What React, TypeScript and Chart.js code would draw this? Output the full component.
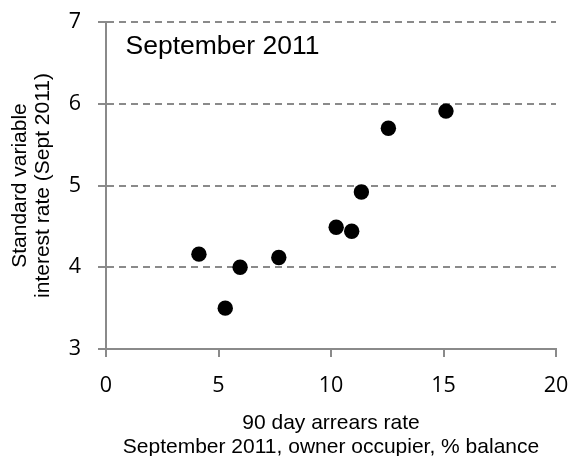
import React, { useEffect, useRef } from "react";
import { Chart, registerables } from "chart.js";

Chart.register(...registerables);

const arrearsRate: number[] = [4.13, 5.3, 5.96, 7.68, 10.23, 10.92, 11.35, 12.55, 15.11];
const interestRate: number[] = [4.16, 3.5, 4.0, 4.12, 4.49, 4.44, 4.92, 5.7, 5.91];
const xTickValues: number[] = [0, 5, 10, 15, 20];
const yTickValues: number[] = [3, 4, 5, 6, 7];
const panelTitle = "September 2011";
const xTitle: string[] = ["90 day arrears rate", "September 2011, owner occupier, % balance"];
const yTitle: string[] = ["Standard variable", "interest rate (Sept 2011)"];

const GREY = "#8a8a8a";

const panelTitlePlugin = {
  id: "panelTitle",
  afterDraw(chart: any) {
    const { ctx, chartArea } = chart;
    ctx.save();
    ctx.font = "26.5px 'Liberation Sans', Arial, sans-serif";
    ctx.fillStyle = "#000";
    ctx.textAlign = "left";
    ctx.textBaseline = "alphabetic";
    ctx.fillText(panelTitle, chartArea.left + 19.5, chartArea.top + 31.5);
    ctx.restore();
  },
};

export default function App() {
  const ref = useRef<HTMLCanvasElement | null>(null);
  useEffect(() => {
    if (!ref.current) return;
    const points = arrearsRate.map((x, i) => ({ x, y: interestRate[i] }));
    const chart = new Chart(ref.current, {
      type: "scatter",
      data: {
        datasets: [
          {
            data: points,
            backgroundColor: "#000",
            borderWidth: 0,
            pointRadius: 7.7,
            pointHoverRadius: 7.7,
          },
        ],
      },
      options: {
        responsive: false,
        animation: false,
        events: [],
        layout: { padding: { left: 0, right: 19, top: 22, bottom: 0 } },
        plugins: {
          legend: { display: false },
          tooltip: { enabled: false },
          title: { display: false },
        },
        scales: {
          x: {
            type: "linear",
            min: xTickValues[0],
            max: xTickValues[xTickValues.length - 1],
            afterBuildTicks: (scale: any) => {
              scale.ticks = xTickValues.map((v) => ({ value: v }));
            },
            afterFit: (scale: any) => {
              scale.height = 107;
              scale.paddingLeft = 0;
              scale.paddingRight = 0;
            },
            ticks: {
              color: "#000",
              padding: 16,
              font: { family: "'Open Sans', sans-serif", size: 21.5 },
              maxRotation: 0,
            },
            grid: {
              drawOnChartArea: false,
              drawTicks: true,
              tickLength: 8,
              color: GREY,
              tickColor: GREY,
              lineWidth: 2,
            },
            border: { display: true, color: GREY, width: 2 },
            title: {
              display: true,
              text: xTitle,
              color: "#000",
              font: { family: "'Liberation Sans', Arial, sans-serif", size: 21, lineHeight: 1.14 },
              padding: { top: 0, bottom: -3 },
            },
          },
          y: {
            type: "linear",
            min: yTickValues[0],
            max: yTickValues[yTickValues.length - 1],
            afterBuildTicks: (scale: any) => {
              scale.ticks = yTickValues.map((v) => ({ value: v }));
            },
            afterFit: (scale: any) => {
              scale.width = 106;
              scale.paddingTop = 0;
              scale.paddingBottom = 0;
            },
            ticks: {
              color: "#000",
              padding: 17,
              font: { family: "'Open Sans', sans-serif", size: 21.5 },
            },
            grid: {
              drawOnChartArea: true,
              drawTicks: true,
              tickLength: 8,
              color: GREY,
              tickColor: GREY,
              lineWidth: 2,
              tickBorderDash: [],
            },
            border: { display: true, color: GREY, width: 2, dash: [7, 5] },
            title: {
              display: true,
              text: yTitle,
              color: "#000",
              font: { family: "'Liberation Sans', Arial, sans-serif", size: 21, lineHeight: 1.1 },
              padding: { top: 9, bottom: 0 },
            },
          },
        },
      },
      plugins: [panelTitlePlugin],
    } as any);
    return () => chart.destroy();
  }, []);
  return (
    <div style={{ position: "fixed", left: 0, top: 0, width: 575, height: 456, background: "#fff" }}>
      <canvas ref={ref} width={575} height={456} style={{ display: "block" }} />
    </div>
  );
}
